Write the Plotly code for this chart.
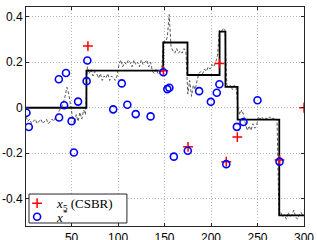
import plotly.graph_objects as go

# --- data ---------------------------------------------------------------
# true piecewise-constant signal (step line)
step_x = [1, 66, 148.6, 174.7, 209.2, 215.5, 228.6, 273.4, 300]
step_y = [0.0, 0.163, 0.287, 0.144, 0.335, 0.092, -0.052, -0.473, -0.473]

# noisy estimate (dashed line), sampled every 2 indices
dash_x = list(range(1, 300, 2))
dash_y = [
    -0.04, -0.06, -0.05, -0.07, -0.06, -0.05, -0.07, -0.06, -0.05, -0.07,
    -0.06, -0.05, -0.07, -0.06, -0.05, -0.06, -0.04,
    -0.03, -0.01, 0.00, 0.02,
    0.05, 0.09, 0.06,
    0.00,
    -0.04, -0.07, -0.03, -0.06,
    -0.02, -0.05, -0.01, -0.03,
    0.18, 0.15, 0.17, 0.14, 0.16,
    0.15, 0.13, 0.15, 0.12, 0.14, 0.13, 0.15, 0.12, 0.14, 0.13, 0.12, 0.14,
    0.19, 0.21, 0.18, 0.20, 0.19, 0.21, 0.20, 0.18, 0.21, 0.19, 0.20, 0.18,
    0.21, 0.19, 0.20, 0.21, 0.18, 0.20,
    0.16, 0.15, 0.17, 0.15, 0.16, 0.17,
    0.29, 0.29,
    0.31, 0.41, 0.27,
    0.25, 0.24, 0.26, 0.24, 0.25, 0.24, 0.26, 0.25,
    0.06, 0.12, 0.05, 0.10, 0.08, 0.12,
    0.15, 0.16, 0.15, 0.17, 0.16, 0.18, 0.17, 0.19, 0.18, 0.20, 0.23,
    0.34, 0.33, 0.35, 0.34,
    0.10, 0.09, 0.10, 0.08, 0.10, 0.09,
    0.00, -0.03, -0.01, -0.03,
    -0.07, -0.10, -0.08, -0.10, -0.07, -0.09, -0.08,
    -0.04, -0.05, -0.04, -0.055, -0.045, -0.05, -0.04, -0.05, -0.045, -0.055, -0.05,
    -0.47,
    -0.46, -0.48, -0.47, -0.49, -0.46, -0.48, -0.47, -0.45, -0.48, -0.49,
    -0.47, -0.46, -0.48,
]

# x* (blue circles)
xstar_x = [1.5, 4, 36.3, 44, 67, 66.2, 42, 57, 36.6, 50, 52.5, 104, 94.8, 110,
           119, 135, 148.7, 153, 155.2, 160, 175, 187.2, 199.8, 206.2, 209,
           216.4, 227.8, 234.9, 250, 273.7]
xstar_y = [-0.022, -0.085, 0.125, 0.153, 0.208, 0.117, 0.011, 0.027, -0.043,
           -0.059, -0.197, 0.107, -0.007, 0.013, -0.028, -0.038, 0.156, 0.082,
           0.088, -0.215, -0.189, 0.073, 0.026, 0.066, 0.103, -0.248, -0.084,
           -0.063, 0.033, -0.237]

# x5 (CSBR) (red crosses)
csbr_x = [67.6, 148.7, 175.3, 209, 216.4, 228.3, 273.7, 300]
csbr_y = [0.271, 0.163, -0.172, 0.195, -0.237, -0.129, -0.230, 0.0]

x_ticks = [50, 100, 150, 200, 250, 300]
y_ticks = [-0.4, -0.2, 0, 0.2, 0.4]
y_tick_text = ["-0.4", "-0.2", "0", "0.2", "0.4"]

# --- figure -------------------------------------------------------------
fig = go.Figure()

fig.add_trace(go.Scatter(
    x=dash_x, y=dash_y, mode="lines",
    line=dict(color="#444444", width=0.9, dash="3px,2px"),
    showlegend=False, hoverinfo="skip"))

fig.add_trace(go.Scatter(
    x=step_x, y=step_y, mode="lines", line_shape="hv",
    line=dict(color="black", width=1.8),
    showlegend=False, hoverinfo="skip"))

fig.add_trace(go.Scatter(
    x=csbr_x, y=csbr_y, mode="markers",
    name="<i>x</i><sub>5</sub> (CSBR)", legend="legend",
    marker=dict(symbol="cross-thin", size=7, color="red",
                line=dict(color="red", width=1.5))))

fig.add_trace(go.Scatter(
    x=xstar_x, y=xstar_y, mode="markers",
    name="<i>x</i><sup>*</sup>", legend="legend2",
    marker=dict(symbol="circle-open", size=7, color="blue",
                line=dict(color="blue", width=1.6))))

axis_common = dict(
    showgrid=True, gridcolor="#b4b4b4", gridwidth=1, griddash="1px,2px",
    showline=True, linecolor="#262626", linewidth=1, mirror="ticks",
    ticks="inside", ticklen=3, tickcolor="#262626",
    zeroline=False, ticklabeloverflow="allow", automargin=False,
    tickfont=dict(family="Liberation Sans, Arial", size=12, color="black"),
)

fig.update_xaxes(range=[1, 300], tickvals=x_ticks, ticklabelstandoff=1,
                 **axis_common)
fig.update_yaxes(range=[-0.52, 0.443], tickvals=y_ticks, ticktext=y_tick_text,
                 **axis_common)

legend_common = dict(
    xanchor="left", yanchor="middle",
    bgcolor="rgba(0,0,0,0)", borderwidth=0,
    font=dict(family="Liberation Serif, DejaVu Serif", size=13, color="black"),
    tracegroupgap=0, itemwidth=30,
)

fig.update_layout(
    width=317, height=240,
    margin=dict(l=26, r=13, t=7, b=14, autoexpand=False),
    paper_bgcolor="white", plot_bgcolor="white",
    legend=dict(x=-0.032, y=0.104, **legend_common),
    legend2=dict(x=-0.032, y=0.042, **legend_common),
    shapes=[dict(type="rect", xref="paper", yref="paper",
                 x0=0.0108, x1=0.363, y0=0.0137, y1=0.146,
                 fillcolor="white", line=dict(color="#262626", width=1),
                 layer="above")],
)

fig.write_html("out.html",
               config={"displayModeBar": False},
               post_script="document.body.style.margin='0';"
                           "document.body.style.overflow='hidden';")
